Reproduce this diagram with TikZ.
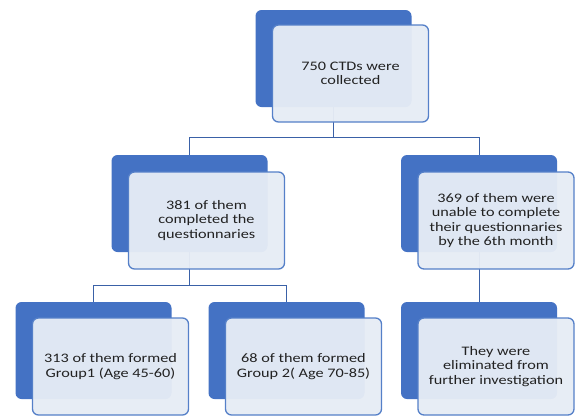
\documentclass[tikz,border=0pt]{standalone}
\usepackage{fontspec}
\setmainfont[FakeStretch=1.25]{Carlito}
\usetikzlibrary{backgrounds}

\definecolor{boxblue}{HTML}{4472C4}
\definecolor{edgeblue}{HTML}{5580C8}
\definecolor{paleblue}{HTML}{E6ECF5}
\definecolor{textgray}{HTML}{222222}

\tikzset{
  backbox/.style={fill=boxblue,rounded corners=6pt,minimum width=156pt,minimum height=97pt,inner sep=0pt},
  frontbox/.style={draw=edgeblue,line width=1.3pt,fill=paleblue,fill opacity=0.96,text opacity=1,
    rounded corners=6pt,minimum width=156pt,minimum height=97pt,align=center,
    text=textgray,font=\fontsize{13}{14.2}\selectfont},
  link/.style={draw=boxblue!85!black,line width=1pt}
}

\begin{document}
\begin{tikzpicture}[x=1pt,y=-1pt]
        \useasboundingbox (0,0) rectangle (576,418); % page size
        % back plates
        \node[backbox] (topback) at (333.5,58.5) {};
        \node[backbox] (leftback) at (189.5,203.5) {};
        \node[backbox] (rightback) at (479,203.5) {};
        \node[backbox] (grponeback) at (93.5,350.5) {};
        \node[backbox] (grptwoback) at (286.5,350.5) {};
        \node[backbox] (elimback) at (479,350.5) {};
        % text boxes
        \node[frontbox] (top) at (350.5,73.5) {750 CTDs were\\collected};
        \node[frontbox] (left) at (206.5,220.5) {381 of them\\completed the\\questionnaries};
        \node[frontbox] (right) at (496,220.5) {369 of them were\\unable to complete\\their questionnaries\\by the 6th month};
        \node[frontbox] (grpone) at (110.5,366.5) {313 of them formed\\Group1 (Age 45-60)};
        \node[frontbox] (grptwo) at (303.5,366.5) {68 of them formed\\Group 2( Age 70-85)};
        \node[frontbox] (elim) at (496,366.5) {They were\\eliminated from\\further investigation};
        % connectors
        \coordinate (busone) at (333.5,137); % first split
        \coordinate (bustwo) at (189.5,285); % second split
        \begin{scope}[on background layer]
        \draw[link] (topback.south) -- (busone) -| (leftback.north);
        \draw[link] (busone) -| (rightback.north);
        \draw[link] (leftback.south) -- (bustwo) -| (grponeback.north);
        \draw[link] (bustwo) -| (grptwoback.north);
        \draw[link] (rightback.south) -- (elimback.north);
        \end{scope}
\end{tikzpicture}
\end{document}
